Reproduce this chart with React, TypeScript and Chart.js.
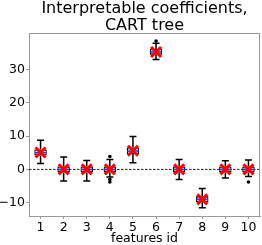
import React, { useEffect, useRef } from 'react';
import { Chart, registerables } from 'chart.js';

Chart.register(...registerables);

const FEATURES = ['1', '2', '3', '4', '5', '6', '7', '8', '9', '10'];
const Q1 = [4.2, -0.9, -0.9, -0.9, 4.6, 34.5, -0.9, -9.9, -0.9, -0.9];
const Q3 = [6.0, 0.9, 0.9, 0.9, 6.6, 36.2, 0.9, -8.1, 0.9, 0.9];
const MEDIAN = [5.0, 0.0, 0.0, 0.0, 5.5, 35.3, 0.0, -9.0, 0.0, 0.0];
const MEAN = [5.1, 0.0, 0.0, 0.0, 5.6, 35.3, 0.0, -9.0, 0.0, 0.0];
const WHISKER_LOW = [1.8, -3.5, -3.5, -2.3, 2.0, 33.0, -3.0, -11.5, -2.6, -2.1];
const WHISKER_HIGH = [8.8, 3.7, 2.7, 3.0, 9.9, 37.9, 3.0, -5.7, 2.6, 2.8];
const OUTLIER_FEATURE = ['4', '4', '4', '6', '10'];
const OUTLIER_VALUE = [3.9, -3.0, -3.8, 38.6, -3.8];
const Y_TICKS = [-10, 0, 10, 20, 30];
const TITLE_LINES = ['Interpretable coefficients,', 'CART tree'];
const X_TITLE = 'features id';

export default function App() {
  const ref = useRef<HTMLCanvasElement>(null);

  useEffect(() => {
    const canvas = ref.current;
    if (!canvas) return;
    const FONT = '"DejaVu Sans"';

    const boxPlugin = {
      id: 'boxExtras',
      beforeDatasetsDraw(chart: any) {
        const { ctx, chartArea, scales } = chart;
        const x = scales.x;
        const y = scales.y;
        ctx.save();
        const y0 = y.getPixelForValue(0);
        ctx.strokeStyle = '#222';
        ctx.lineWidth = 1;
        ctx.setLineDash([2.5, 1.5]);
        ctx.beginPath();
        ctx.moveTo(chartArea.left, y0);
        ctx.lineTo(chartArea.right, y0);
        ctx.stroke();
        ctx.setLineDash([]);
        ctx.strokeStyle = '#000';
        ctx.lineWidth = 1.5;
        FEATURES.forEach((_, i) => {
          const cx = x.getPixelForValue(i);
          const cap = 3.5;
          const lo = y.getPixelForValue(WHISKER_LOW[i]);
          const hi = y.getPixelForValue(WHISKER_HIGH[i]);
          const q1 = y.getPixelForValue(Q1[i]);
          const q3 = y.getPixelForValue(Q3[i]);
          ctx.beginPath();
          ctx.moveTo(cx, lo);
          ctx.lineTo(cx, q1);
          ctx.moveTo(cx, q3);
          ctx.lineTo(cx, hi);
          ctx.moveTo(cx - cap, lo);
          ctx.lineTo(cx + cap, lo);
          ctx.moveTo(cx - cap, hi);
          ctx.lineTo(cx + cap, hi);
          ctx.stroke();
        });
        ctx.restore();
      },
      afterDatasetsDraw(chart: any) {
        const { ctx, chartArea, scales } = chart;
        const x = scales.x;
        const y = scales.y;
        const meta = chart.getDatasetMeta(0);
        ctx.save();
        // medians
        ctx.strokeStyle = '#1f3fff';
        ctx.lineWidth = 1.5;
        FEATURES.forEach((_, i) => {
          const bar = meta.data[i];
          const half = bar.width / 2 - 0.5;
          const my = y.getPixelForValue(MEDIAN[i]);
          ctx.beginPath();
          ctx.moveTo(bar.x - half, my);
          ctx.lineTo(bar.x + half, my);
          ctx.stroke();
        });
        // outliers
        ctx.fillStyle = '#000';
        OUTLIER_FEATURE.forEach((f, k) => {
          const ox = x.getPixelForValue(FEATURES.indexOf(f));
          const oy = y.getPixelForValue(OUTLIER_VALUE[k]);
          ctx.beginPath();
          ctx.arc(ox, oy, 1.8, 0, Math.PI * 2);
          ctx.fill();
        });
        // means
        ctx.strokeStyle = '#ff0000';
        ctx.lineWidth = 3;
        FEATURES.forEach((_, i) => {
          const mx = x.getPixelForValue(i);
          const my = y.getPixelForValue(MEAN[i]);
          const s = 5;
          ctx.beginPath();
          ctx.moveTo(mx - s, my - s);
          ctx.lineTo(mx + s, my + s);
          ctx.moveTo(mx - s, my + s);
          ctx.lineTo(mx + s, my - s);
          ctx.stroke();
        });
        // frame top/right
        ctx.strokeStyle = '#999';
        ctx.lineWidth = 1;
        ctx.beginPath();
        ctx.moveTo(chartArea.left, chartArea.top + 0.5);
        ctx.lineTo(chartArea.right - 0.5, chartArea.top + 0.5);
        ctx.lineTo(chartArea.right - 0.5, chartArea.bottom);
        ctx.stroke();
        // titles
        const cx = (chartArea.left + chartArea.right) / 2;
        ctx.fillStyle = '#000';
        ctx.textAlign = 'center';
        ctx.textBaseline = 'alphabetic';
        ctx.font = `16px ${FONT}`;
        ctx.fillText(TITLE_LINES[0], cx, 12.5);
        ctx.fillText(TITLE_LINES[1], cx, 30);
        ctx.font = `12.5px ${FONT}`;
        ctx.fillText(X_TITLE, cx, 242);
        ctx.restore();
      },
    };

    const chart = new Chart(canvas, {
      type: 'bar',
      data: {
        labels: FEATURES,
        datasets: [
          {
            data: FEATURES.map((_, i) => [Q1[i], Q3[i]]) as any,
            backgroundColor: '#d6dae3',
            borderColor: '#000',
            borderWidth: 1.3,
            borderSkipped: false,
            barPercentage: 0.54,
            categoryPercentage: 1,
          },
        ],
      },
      options: {
        responsive: false,
        animation: false,
        devicePixelRatio: 1,
        layout: { padding: { top: 33, right: 2, left: 0, bottom: 0 } },
        plugins: {
          legend: { display: false },
          title: { display: false },
          tooltip: { enabled: false },
        },
        scales: {
          x: {
            type: 'category',
            offset: true,
            grid: {
              offset: false,
              drawOnChartArea: false,
              drawTicks: true,
              tickLength: 3,
              color: '#999',
            },
            border: { display: true, color: '#999', width: 1 },
            ticks: {
              color: '#000',
              font: { family: FONT, size: 12.5 },
              padding: 1,
              maxRotation: 0,
              autoSkip: false,
            },
            afterFit: (scale: any) => {
              scale.height = 29;
            },
          },
          y: {
            type: 'linear',
            min: -14,
            max: 41,
            grid: {
              drawOnChartArea: false,
              drawTicks: true,
              tickLength: 3,
              color: '#999',
            },
            border: { display: true, color: '#999', width: 1 },
            ticks: {
              color: '#000',
              font: { family: FONT, size: 12.5 },
              padding: 1,
              callback: (v: any) => (Number(v) < 0 ? '\u2212' + Math.abs(Number(v)) : String(v)),
            },
            afterBuildTicks: (scale: any) => {
              scale.ticks = Y_TICKS.map((v) => ({ value: v }));
            },
            afterFit: (scale: any) => {
              scale.width = 29;
            },
          },
        },
      },
      plugins: [boxPlugin],
    });

    return () => chart.destroy();
  }, []);

  return (
    <div style={{ position: 'absolute', left: 0, top: 0, width: 262, height: 245 }}>
      <canvas ref={ref} width={262} height={245} style={{ display: 'block' }} />
    </div>
  );
}
